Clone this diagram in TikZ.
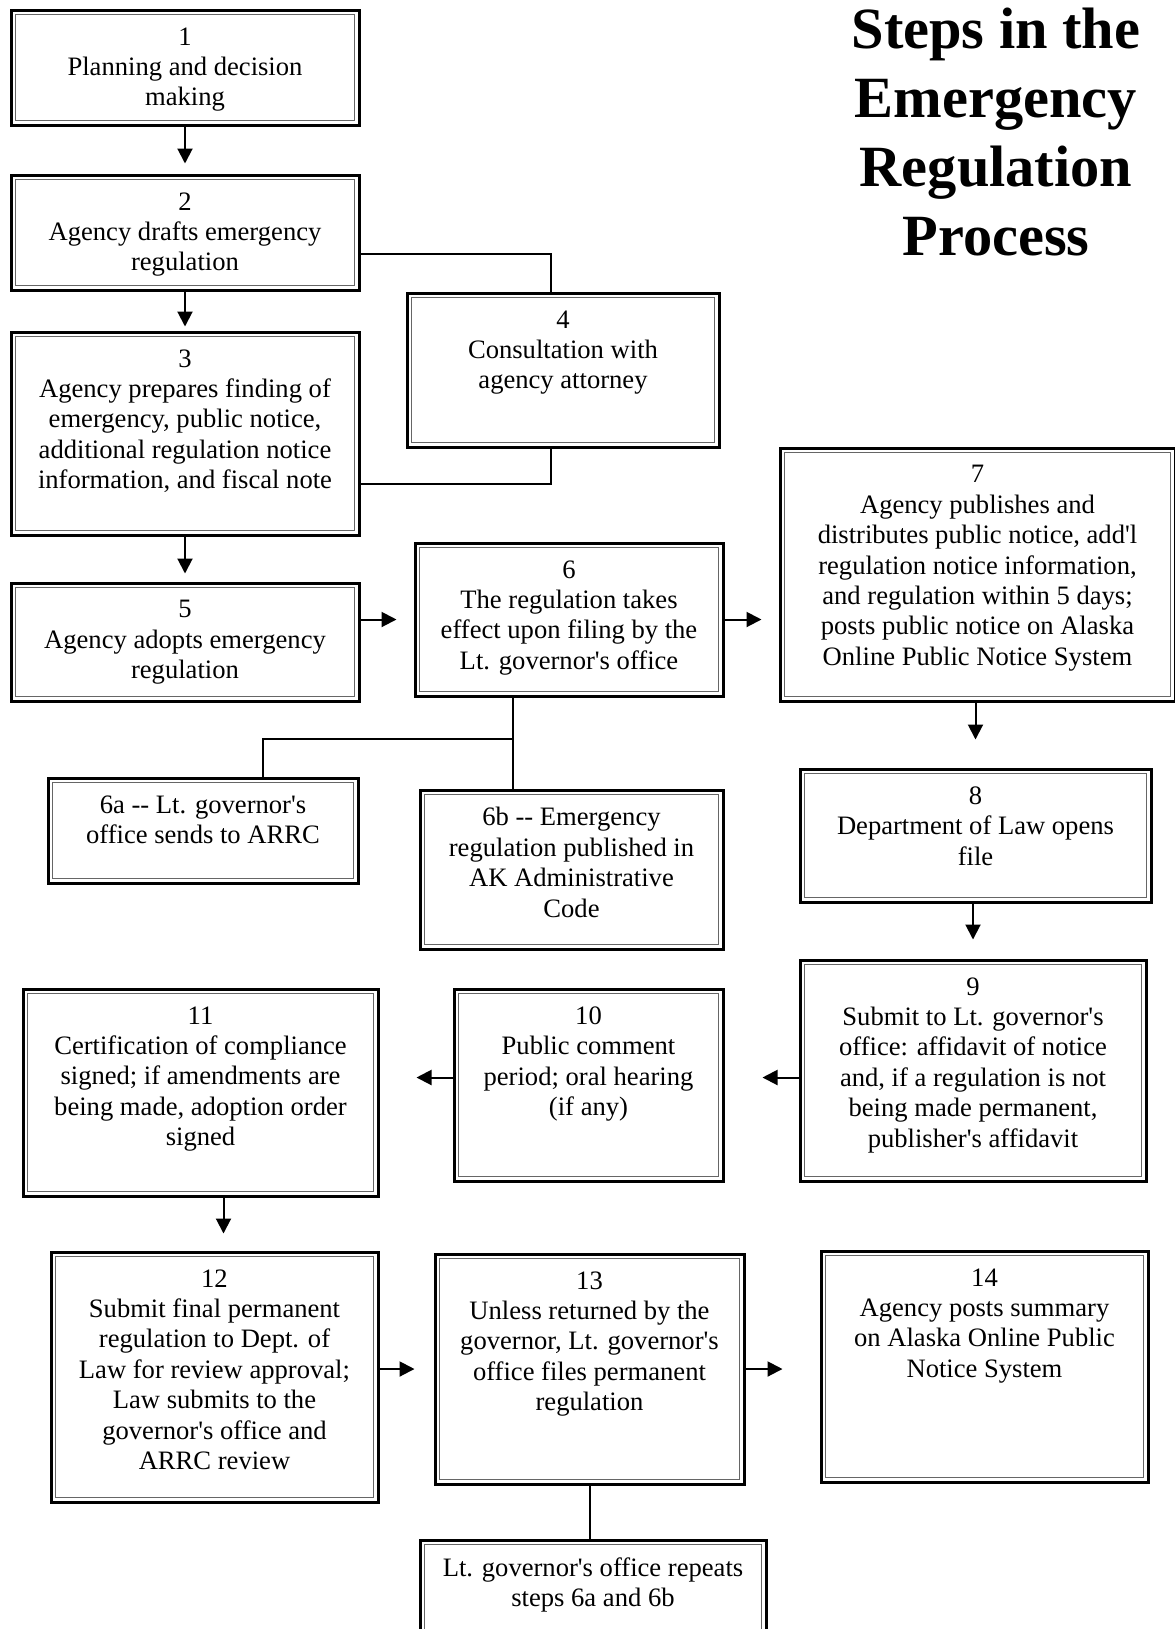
\documentclass[tikz,border=0pt]{standalone}
\usepackage{fontspec}
\setmainfont{Liberation Serif}[Ligatures=TeXOff]
\usetikzlibrary{arrows.meta,calc}

% text of a step box: width, height, lines
\newcommand{\stepin}[3]{\parbox[c][\dimexpr#2-1.5pt][t]{\dimexpr#1-1.5pt}{\centering\vspace*{8.75pt}#3}}

\tikzset{
  stepbox/.style={draw, line width=1.5pt, anchor=north west, inner sep=0pt,
    xshift=0.75pt, yshift=-0.75pt,
    font=\fontsize{13.3pt}{15.2pt}\selectfont,
    path picture={\draw[black!60, line width=0.6pt]
      ([shift={(2.3pt,-2.3pt)}]path picture bounding box.north west) rectangle
      ([shift={(-2.3pt,2.3pt)}]path picture bounding box.south east);}},
  heading/.style={anchor=north, inner sep=0pt, align=center,
    font=\fontsize{29.2pt}{34.5pt}\selectfont\bfseries},
  link/.style={line width=1pt},
  flow/.style={line width=1pt, -{Triangle[length=7.5pt,width=7.5pt]}}
}

\begin{document}
\begin{tikzpicture}[x=0.5pt,y=-0.5pt]

\useasboundingbox (0,0) rectangle (1174,1629);

\node[heading] (title) at (996,8) {Steps in the\\Emergency\\Regulation\\Process};

% left column, steps 1 to 5
\node[stepbox] (s1) at (8,7) {\stepin{175.5pt}{59pt}{1\\Planning and decision\\making}};
\node[stepbox] (s2) at (8,172) {\stepin{175.5pt}{59pt}{2\\Agency drafts emergency\\regulation}};
\node[stepbox] (s3) at (8,329) {\stepin{175.5pt}{103pt}{3\\Agency prepares finding of\\emergency, public notice,\\additional regulation notice\\information, and fiscal note}};
\node[stepbox] (s4) at (404,290) {\stepin{157.5pt}{78.5pt}{4\\Consultation with\\agency attorney}};
\node[stepbox] (s5) at (8,580) {\stepin{175.5pt}{60.5pt}{5\\Agency adopts emergency\\regulation}};

% steps 6 and 7
\node[stepbox] (s6) at (412,540) {\stepin{155.5pt}{78pt}{6\\The regulation takes\\effect upon filing by the\\Lt. governor's office}};
\node[stepbox] (s7) at (777,445) {\stepin{199pt}{128pt}{7\\Agency publishes and\\distributes public notice, add'l\\regulation notice information,\\and regulation within 5 days;\\posts public notice on Alaska\\Online Public Notice System}};
\node[stepbox] (s6a) at (45,775) {\stepin{156.5pt}{54pt}{6a -- Lt. governor's\\office sends to ARRC}};
\node[stepbox] (s6b) at (417,787) {\stepin{153pt}{81pt}{6b -- Emergency\\regulation published in\\AK Administrative\\Code}};

% right column, steps 8 and 9
\node[stepbox] (s8) at (797,766) {\stepin{177pt}{68pt}{8\\Department of Law opens\\file}};
\node[stepbox] (s9) at (797,957) {\stepin{174.5pt}{112pt}{9\\Submit to Lt. governor's\\office: affidavit of notice\\and, if a regulation is not\\being made permanent,\\publisher's affidavit}};

% steps 10 and 11
\node[stepbox] (s10) at (451,986) {\stepin{136pt}{97.5pt}{10\\Public comment\\period; oral hearing\\(if any)}};
\node[stepbox] (s11) at (20,986) {\stepin{179pt}{105pt}{11\\Certification of compliance\\signed; if amendments are\\being made, adoption order\\signed}};

% bottom row
\node[stepbox] (s12) at (48,1249) {\stepin{165pt}{126.5pt}{12\\Submit final permanent\\regulation to Dept. of\\Law for review approval;\\Law submits to the\\governor's office and\\ARRC review}};
\node[stepbox] (s13) at (432,1251) {\stepin{156pt}{116.5pt}{13\\Unless returned by the\\governor, Lt. governor's\\office files permanent\\regulation}};
\node[stepbox] (s14) at (818,1248) {\stepin{165pt}{117pt}{14\\Agency posts summary\\on Alaska Online Public\\Notice System}};
\node[stepbox] (s15) at (417,1537) {\stepin{174.5pt}{100pt}{Lt. governor's office repeats\\steps 6a and 6b}};

% arrows
\draw[flow, shorten >=5pt] (s1) -- (s2);
\draw[flow, shorten >=2pt] (s2) -- (s3);
\draw[flow, shorten >=4pt] (s3) -- (s5);
\draw[flow, shorten >=8.5pt] (s5.east |- s6.west) -- (s6.west);
\draw[flow, shorten >=8.5pt] (s6.east) -- (s7.west |- s6.east);
\draw[flow, shorten >=14pt] (s8.north |- s7.south) -- (s8.north);
\draw[flow, shorten >=9.5pt] (s9.north |- s8.south) -- (s9.north);

\coordinate (row9) at ($(s9.west)+(0,7)$);
\draw[flow, shorten >=19pt] (row9) -- (row9 -| s10.east);
\draw[flow, shorten >=18.5pt] (row9 -| s10.west) -- (row9 -| s11.east);

\draw[flow, shorten >=8.5pt] ($(s11.south -| s12.north)+(9,0)$) -- ($(s12.north)+(9,0)$);
\draw[flow, shorten >=9.5pt] (s12.east |- s13.west) -- (s13.west);
\draw[flow, shorten >=18.5pt] (s13.east) -- (s14.west |- s13.east);

% plain lines
\draw[link] ($(s2.east)+(0,21)$) -| ($(s4.north)+(-12.5,0)$);
\draw[link] ($(s4.south)+(-12.5,0)$) |- ($(s3.east)+(0,50)$);

\coordinate (split6) at ($(s6.south)+(-56.5,41)$);
\draw[link] (s6.south -| split6) -- (split6 |- s6b.north);
\draw[link] (split6) -| ($(s6a.north)+(59.5,0)$);

\draw[link] (s13.south) -- (s13.south |- s15.north);

\end{tikzpicture}
\end{document}
